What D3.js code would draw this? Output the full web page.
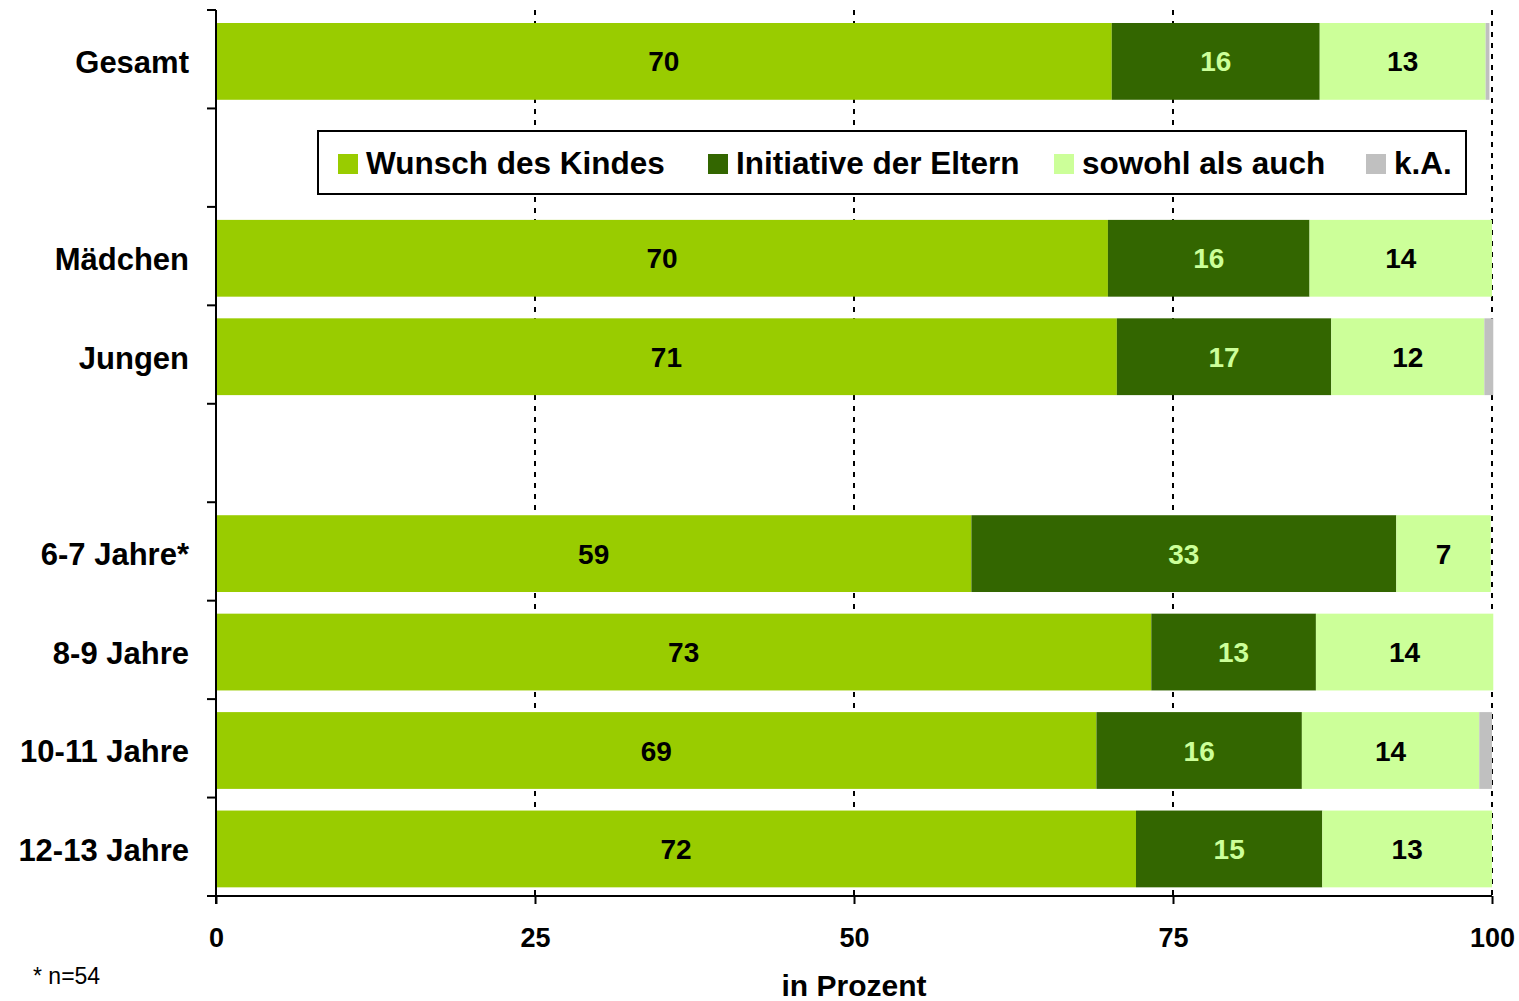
<!DOCTYPE html>
<html>
<head>
<meta charset="utf-8">
<script src="https://cdn.jsdelivr.net/npm/d3@7"></script>
<style>
  body { margin: 0; background: #fff; }
  svg { font-family: "Liberation Sans", Arial, sans-serif; }
</style>
</head>
<body>
<div id="chart"></div>
<script>
// Daten (in Prozent)
var categories = ["Gesamt", "Mädchen", "Jungen", "6-7 Jahre*", "8-9 Jahre", "10-11 Jahre", "12-13 Jahre"];
var slots = [0, 2, 3, 5, 6, 7, 8]; // leere Zeilen dazwischen
var seriesNames = ["Wunsch des Kindes", "Initiative der Eltern", "sowohl als auch", "k.A."];
var wunsch     = [70.2, 69.9, 70.6, 59.2, 73.3, 69.0, 72.1];
var initiative = [16.3, 15.8, 16.8, 33.3, 12.9, 16.1, 14.6];
var sowohl     = [13.0, 14.3, 12.0, 7.4, 13.9, 13.9, 13.3];
var keineAngabe = [0.3, 0, 0.7, 0, 0, 1.0, 0];
var xTicks = [0, 25, 50, 75, 100];

var colors = ["#99cc00", "#336600", "#ccff99", "#c0c0c0"];
var labelColors = ["#000", "#ccff99", "#000", null];

var width = 1519, height = 1001;
var pLeft = 216, pRight = 1492, pTop = 10, pBottom = 896;

var svg = d3.select("#chart")
            .append("svg")
            .attr("width", width)
            .attr("height", height);

var xScale = d3.scaleLinear().domain([0, 100]).range([pLeft, pRight]);
var yScale = d3.scaleBand().domain(d3.range(9)).range([pTop, pBottom])
               .paddingInner(0.22).paddingOuter(0.11).align(0.6);

// Tabelle für stack
var table = categories.map(function(c, i) {
    return { cat: c, slot: slots[i], s0: wunsch[i], s1: initiative[i], s2: sowohl[i], s3: keineAngabe[i] };
});
var stack = d3.stack().keys(["s0", "s1", "s2", "s3"])(table);

// Gitterlinien (gepunktet)
svg.append("g")
   .selectAll("line")
   .data(xTicks.slice(1))
   .enter()
   .append("line")
   .attr("x1", function(d) { return xScale(d); })
   .attr("x2", function(d) { return xScale(d); })
   .attr("y1", pTop)
   .attr("y2", pBottom)
   .attr("stroke", "#000")
   .attr("stroke-width", 2)
   .attr("stroke-dasharray", "5,6");

// Balken
var layers = svg.append("g")
   .selectAll("g")
   .data(stack)
   .enter()
   .append("g")
   .attr("fill", function(d, i) { return colors[i]; });

layers.selectAll("rect")
   .data(function(d) { return d; })
   .enter()
   .append("rect")
   .attr("x", function(d) { return xScale(d[0]); })
   .attr("y", function(d) { return yScale(d.data.slot); })
   .attr("width", function(d) { return xScale(d[1]) - xScale(d[0]); })
   .attr("height", yScale.bandwidth());

// Werte in den Balken
stack.forEach(function(layer, li) {
    if (!labelColors[li]) return;
    svg.append("g")
       .selectAll("text")
       .data(layer)
       .enter()
       .append("text")
       .attr("x", function(d) { return (xScale(d[0]) + xScale(d[1])) / 2; })
       .attr("y", function(d) { return yScale(d.data.slot) + yScale.bandwidth() / 2; })
       .attr("dy", "0.36em")
       .attr("text-anchor", "middle")
       .attr("fill", labelColors[li])
       .style("font-size", "28px")
       .style("font-weight", "bold")
       .text(function(d) { return Math.round(d[1] - d[0]); });
});

// y-Achse
svg.append("line")
   .attr("x1", pLeft).attr("x2", pLeft)
   .attr("y1", pTop).attr("y2", pBottom + 8)
   .attr("stroke", "#000").attr("stroke-width", 2);

svg.append("g")
   .selectAll("line")
   .data(d3.range(10))
   .enter()
   .append("line")
   .attr("x1", pLeft - 9).attr("x2", pLeft)
   .attr("y1", function(i) { return pTop + i * yScale.step(); })
   .attr("y2", function(i) { return pTop + i * yScale.step(); })
   .attr("stroke", "#000").attr("stroke-width", 2);

svg.append("g")
   .selectAll("text")
   .data(table)
   .enter()
   .append("text")
   .attr("x", 189)
   .attr("y", function(d) { return yScale(d.slot) + yScale.bandwidth() / 2; })
   .attr("dy", "0.38em")
   .attr("text-anchor", "end")
   .style("font-size", "31px")
   .style("font-weight", "bold")
   .text(function(d) { return d.cat; });

// x-Achse
var xAxis = svg.append("g")
   .attr("transform", "translate(0," + pBottom + ")")
   .call(d3.axisBottom(xScale).tickValues(xTicks).tickSize(8).tickPadding(24))
   .style("font-size", "27px")
   .style("font-weight", "bold");
xAxis.select(".domain").attr("stroke-width", 2).attr("d", "M" + (pLeft - 9) + ",0H" + pRight);
xAxis.selectAll(".tick line").attr("stroke-width", 2);
xAxis.selectAll(".tick text").attr("fill", "#000")
     .style("font-family", "Liberation Sans, Arial, sans-serif");

svg.append("text")
   .attr("x", (pLeft + pRight) / 2)
   .attr("y", 996)
   .attr("text-anchor", "middle")
   .style("font-size", "30px")
   .style("font-weight", "bold")
   .text("in Prozent");

svg.append("text")
   .attr("x", 33)
   .attr("y", 984)
   .style("font-size", "23px")
   .text("* n=54");

// Legende
var legend = svg.append("g");
legend.append("rect")
   .attr("x", 318).attr("y", 131)
   .attr("width", 1148).attr("height", 63)
   .attr("fill", "#fff")
   .attr("stroke", "#000").attr("stroke-width", 2);

var legendX = [338, 708, 1054, 1366];
seriesNames.forEach(function(name, i) {
    legend.append("rect")
       .attr("x", legendX[i]).attr("y", 154)
       .attr("width", 20).attr("height", 20)
       .attr("fill", colors[i]);
    legend.append("text")
       .attr("x", legendX[i] + 28)
       .attr("y", 163)
       .attr("dy", "0.36em")
       .style("font-size", "31.5px")
       .style("font-weight", "bold")
       .text(name);
});
</script>
</body>
</html>
